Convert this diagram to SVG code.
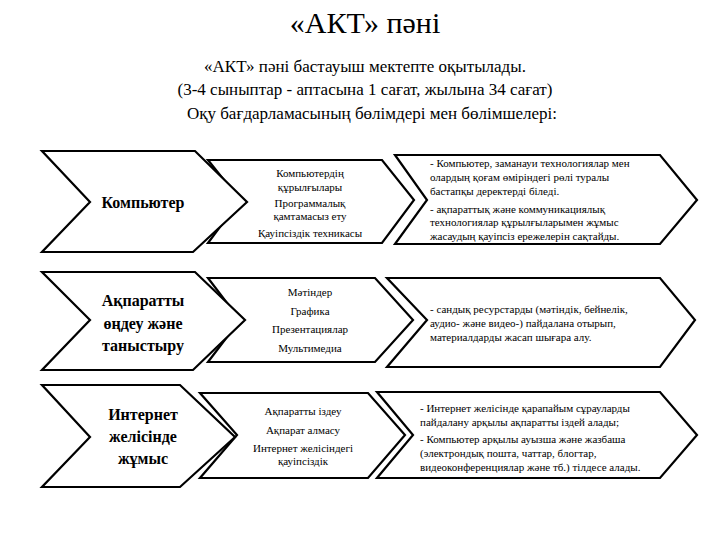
<svg xmlns="http://www.w3.org/2000/svg" width="720" height="540" viewBox="0 0 720 540" font-family="'Liberation Serif', 'Times New Roman', 'DejaVu Serif', serif">
<style>
.c{fill:#fff;stroke:#000;stroke-width:2.2;stroke-linejoin:miter}
text{font-family:'Liberation Serif','Times New Roman','DejaVu Serif',serif;fill:#000}
.h{font-size:16px;font-weight:bold;text-anchor:middle}
.m{font-size:11px;text-anchor:middle}
.r{font-size:11px}
</style>
<rect width="720" height="540" fill="#fff"/>
<text x="365" y="33" font-size="30" text-anchor="middle">«АКТ» пәні</text>
<text x="365" y="72" font-size="17" text-anchor="middle">«АКТ» пәні бастауыш мектепте оқытылады.</text>
<text x="365" y="95" font-size="17" text-anchor="middle">(3-4 сыныптар - аптасына 1 сағат, жылына 34 сағат)</text>
<text x="372" y="119" font-size="17" text-anchor="middle">Оқу бағдарламасының бөлімдері мен бөлімшелері:</text>
<g id="row1">
<polygon class="c" points="395,155 660,155 697,200 660,244 395,244 427,200"/>
<polygon class="c" points="208,160 382,160 414,200 382,243 208,243 240,200"/>
<polygon class="c" points="42,151 195,151 247,202 193,252 42,252 90,202"/>
<text class="h" x="143" y="208">Компьютер</text>
<text class="m"><tspan x="310" y="177">Компьютердің</tspan><tspan x="310" y="191">құрылғылары</tspan><tspan x="310" y="207">Программалық</tspan><tspan x="310" y="220">қамтамасыз ету</tspan><tspan x="310" y="237">Қауіпсіздік техникасы</tspan></text>
<text class="r"><tspan x="430" y="167">- Компьютер, заманауи технологиялар мен</tspan><tspan x="430" y="181">олардың қоғам өміріндегі рөлі туралы</tspan><tspan x="430" y="195">бастапқы деректерді біледі.</tspan><tspan x="430" y="213">- ақпараттық және коммуникациялық</tspan><tspan x="430" y="226">технологиялар құрылғыларымен жұмыс</tspan><tspan x="430" y="240">жасаудың қауіпсіз ережелерін сақтайды.</tspan></text>
</g>
<g id="row2">
<polygon class="c" points="387,278 660,278 695,320 660,367 387,367 427,320"/>
<polygon class="c" points="208,278 375,278 413,320 375,362 208,362 240,320"/>
<polygon class="c" points="42,272 195,272 245,320 193,370 42,370 90,320"/>
<text class="h"><tspan x="143" y="306">Ақпаратты</tspan><tspan x="143" y="329">өңдеу және</tspan><tspan x="143" y="351">таныстыру</tspan></text>
<text class="m"><tspan x="310" y="296">Мәтіндер</tspan><tspan x="310" y="315">Графика</tspan><tspan x="310" y="333">Презентациялар</tspan><tspan x="310" y="352">Мультимедиа</tspan></text>
<text class="r"><tspan x="430" y="313">- сандық ресурстарды (мәтіндік, бейнелік,</tspan><tspan x="430" y="327">аудио- және видео-) пайдалана отырып,</tspan><tspan x="430" y="341">материалдарды жасап шығара алу.</tspan></text>
</g>
<g id="row3">
<polygon class="c" points="377,392 660,392 697,435 660,478 377,478 413,435"/>
<polygon class="c" points="200,393 368,393 405,435 368,478 200,478 237,435"/>
<polygon class="c" points="42,385 180,385 235,437 180,487 42,487 90,437"/>
<text class="h"><tspan x="143" y="420">Интернет</tspan><tspan x="143" y="442">желісінде</tspan><tspan x="143" y="464">жұмыс</tspan></text>
<text class="m"><tspan x="303" y="415">Ақпаратты іздеу</tspan><tspan x="303" y="434">Ақпарат алмасу</tspan><tspan x="303" y="452">Интернет желісіндегі</tspan><tspan x="303" y="465">қауіпсіздік</tspan></text>
<text class="r"><tspan x="420" y="412">- Интернет желісінде қарапайым сұрауларды</tspan><tspan x="420" y="426">пайдалану арқылы ақпаратты іздей алады;</tspan><tspan x="420" y="443">- Компьютер арқылы ауызша және жазбаша</tspan><tspan x="420" y="457">(электрондық пошта, чаттар, блогтар,</tspan><tspan x="420" y="471">видеоконференциялар және тб.) тілдесе алады.</tspan></text>
</g>
<g id="connectors"></g>
</svg>
